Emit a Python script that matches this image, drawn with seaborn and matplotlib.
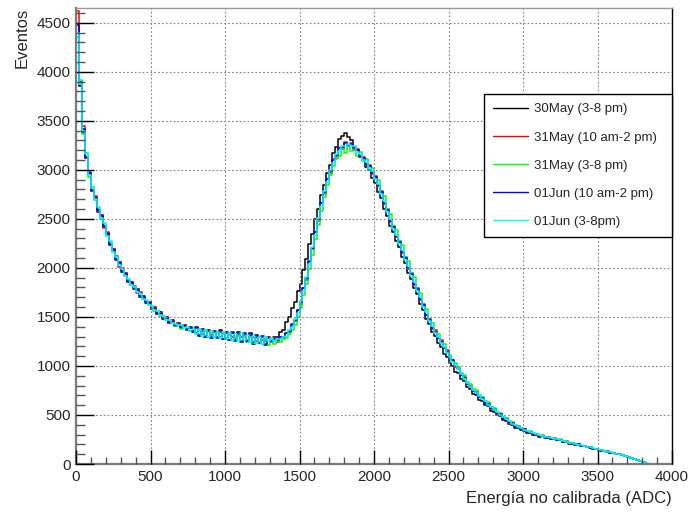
import numpy as np
import pandas as pd
import matplotlib
matplotlib.use("Agg")
import matplotlib.pyplot as plt
from matplotlib.lines import Line2D
from matplotlib.ticker import MultipleLocator
import seaborn as sns

# ---- data: counts per 20-ADC bin (0..4000) ----
bin_width = 20
series_names = ["30May (3-8 pm)", "31May (10 am-2 pm)", "31May (3-8 pm)",
                "01Jun (10 am-2 pm)", "01Jun (3-8pm)"]
series_colors = ["#000000", "#ff0000", "#00ff00", "#0000ff", "#00ffff"]

may30_pm = [4480, 3850, 3380, 3120, 2960, 2780, 2720, 2570,
            2540, 2420, 2360, 2230, 2190, 2080, 2060, 1960,
            1950, 1860, 1860, 1780, 1780, 1700, 1710, 1640,
            1650, 1580, 1600, 1530, 1550, 1480, 1500, 1440,
            1470, 1410, 1440, 1390, 1420, 1370, 1400, 1350,
            1400, 1310, 1380, 1300, 1370, 1280, 1360, 1290,
            1370, 1270, 1350, 1260, 1340, 1250, 1350, 1240,
            1330, 1250, 1340, 1220, 1320, 1230, 1300, 1210,
            1290, 1250, 1300, 1300, 1350, 1370, 1450, 1500,
            1590, 1650, 1760, 1840, 1980, 2090, 2240, 2350,
            2500, 2600, 2740, 2840, 2970, 3050, 3170, 3230,
            3310, 3340, 3380, 3330, 3300, 3230, 3200, 3130,
            3100, 3030, 3000, 2920, 2870, 2770, 2710, 2600,
            2530, 2430, 2370, 2270, 2210, 2110, 2050, 1950,
            1890, 1790, 1730, 1630, 1570, 1480, 1430, 1350,
            1310, 1230, 1195, 1120, 1090, 1025, 1000, 940,
            930, 870, 845, 785, 765, 715, 700, 655,
            645, 600, 590, 545, 535, 495, 488, 450,
            440, 410, 402, 372, 368, 344, 340, 318,
            315, 295, 295, 280, 282, 266, 267, 253,
            253, 240, 240, 227, 224, 208, 208, 197,
            195, 184, 182, 170, 166, 155, 151, 140,
            137, 128, 125, 116, 112, 102, 98, 89,
            81, 70, 60, 48, 38, 26, 15, 5,
            0, 0, 0, 0, 0, 0, 0, 0]

may31_am = [4620, 3880, 3450, 3120, 2980, 2780, 2730, 2580,
            2540, 2410, 2370, 2230, 2190, 2120, 2010, 2000,
            1950, 1860, 1830, 1820, 1740, 1750, 1680, 1650,
            1650, 1580, 1590, 1530, 1540, 1490, 1500, 1440,
            1460, 1420, 1440, 1390, 1420, 1370, 1390, 1380,
            1340, 1380, 1330, 1310, 1360, 1320, 1300, 1350,
            1300, 1340, 1280, 1330, 1290, 1270, 1330, 1290,
            1320, 1260, 1310, 1300, 1250, 1300, 1260, 1250,
            1290, 1240, 1270, 1240, 1290, 1280, 1340, 1350,
            1420, 1460, 1570, 1630, 1790, 1880, 2060, 2190,
            2370, 2480, 2660, 2750, 2910, 2970, 3110, 3130,
            3220, 3210, 3280, 3240, 3270, 3200, 3210, 3130,
            3130, 3050, 3050, 2960, 2940, 2830, 2780, 2650,
            2600, 2470, 2430, 2310, 2270, 2150, 2110, 1990,
            1950, 1830, 1790, 1670, 1630, 1520, 1480, 1380,
            1370, 1280, 1260, 1180, 1160, 1080, 1060, 990,
            980, 905, 885, 815, 800, 740, 735, 680,
            678, 622, 615, 565, 560, 512, 510, 466,
            465, 422, 418, 385, 385, 356, 355, 328,
            328, 302, 306, 288, 290, 272, 276, 258,
            262, 244, 247, 230, 230, 212, 214, 200,
            201, 186, 187, 172, 172, 157, 156, 142,
            141, 130, 128, 117, 115, 104, 100, 90,
            84, 70, 62, 48, 40, 26, 17, 5,
            0, 0, 0, 0, 0, 0, 0, 0]

may31_pm = [4350, 3920, 3370, 3170, 2930, 2820, 2690, 2610,
            2500, 2450, 2330, 2260, 2160, 2090, 2050, 1970,
            1920, 1890, 1830, 1790, 1770, 1710, 1700, 1650,
            1620, 1610, 1560, 1560, 1510, 1510, 1470, 1470,
            1450, 1410, 1430, 1380, 1410, 1380, 1360, 1390,
            1330, 1370, 1320, 1360, 1300, 1340, 1290, 1340,
            1280, 1330, 1270, 1320, 1260, 1300, 1310, 1250,
            1300, 1240, 1290, 1230, 1280, 1240, 1220, 1270,
            1210, 1260, 1220, 1250, 1240, 1270, 1280, 1330,
            1370, 1420, 1500, 1590, 1720, 1840, 1990, 2130,
            2290, 2440, 2580, 2720, 2840, 2950, 3040, 3110,
            3140, 3220, 3170, 3240, 3190, 3230, 3140, 3180,
            3090, 3110, 3010, 3020, 2910, 2900, 2770, 2730,
            2600, 2550, 2430, 2390, 2270, 2230, 2110, 2070,
            1950, 1910, 1780, 1740, 1620, 1580, 1470, 1440,
            1350, 1330, 1240, 1220, 1140, 1110, 1050, 1030,
            985, 925, 905, 840, 815, 765, 750, 705,
            688, 645, 628, 585, 572, 532, 520, 482,
            472, 438, 428, 398, 392, 366, 362, 338,
            334, 312, 310, 294, 294, 279, 278, 264,
            264, 249, 250, 234, 232, 217, 215, 203,
            203, 188, 188, 174, 172, 158, 157, 143,
            143, 131, 129, 118, 116, 104, 102, 90,
            83, 73, 62, 51, 40, 28, 17, 7,
            0, 0, 0, 0, 0, 0, 0, 0]

jun01_am = [4480, 3900, 3420, 3130, 2970, 2790, 2710, 2590,
            2530, 2430, 2350, 2240, 2180, 2090, 2050, 1970,
            1940, 1870, 1850, 1790, 1770, 1710, 1700, 1650,
            1640, 1590, 1580, 1540, 1530, 1490, 1490, 1450,
            1450, 1420, 1430, 1400, 1410, 1380, 1390, 1360,
            1390, 1320, 1360, 1300, 1360, 1290, 1350, 1280,
            1350, 1270, 1340, 1260, 1350, 1260, 1330, 1250,
            1340, 1250, 1320, 1240, 1300, 1230, 1310, 1220,
            1280, 1250, 1270, 1260, 1290, 1290, 1340, 1360,
            1430, 1470, 1570, 1650, 1790, 1900, 2070, 2200,
            2370, 2500, 2660, 2770, 2910, 2990, 3100, 3150,
            3220, 3230, 3270, 3250, 3260, 3220, 3200, 3140,
            3120, 3060, 3040, 2970, 2930, 2840, 2770, 2660,
            2590, 2480, 2420, 2320, 2260, 2160, 2100, 2000,
            1940, 1840, 1780, 1680, 1620, 1520, 1470, 1390,
            1350, 1280, 1240, 1180, 1140, 1080, 1060, 1000,
            970, 910, 880, 815, 790, 740, 725, 685,
            670, 625, 610, 568, 555, 515, 505, 468,
            460, 425, 415, 385, 380, 355, 352, 327,
            325, 302, 304, 286, 289, 272, 274, 258,
            259, 244, 245, 229, 228, 210, 212, 199,
            199, 186, 185, 171, 170, 156, 154, 141,
            139, 129, 127, 116, 114, 102, 100, 88,
            82, 70, 61, 48, 39, 26, 16, 5,
            0, 0, 0, 0, 0, 0, 0, 0]

jun01_pm = [4400, 3870, 3400, 3160, 2950, 2810, 2700, 2620,
            2510, 2460, 2330, 2270, 2160, 2110, 2030, 1990,
            1920, 1890, 1830, 1810, 1750, 1730, 1680, 1670,
            1620, 1610, 1570, 1560, 1520, 1510, 1470, 1470,
            1440, 1430, 1420, 1420, 1390, 1400, 1370, 1380,
            1330, 1380, 1310, 1370, 1300, 1360, 1290, 1350,
            1280, 1350, 1270, 1340, 1260, 1330, 1250, 1340,
            1260, 1320, 1240, 1310, 1230, 1300, 1220, 1290,
            1250, 1280, 1250, 1270, 1270, 1300, 1310, 1370,
            1400, 1480, 1540, 1660, 1760, 1910, 2040, 2210,
            2340, 2510, 2630, 2780, 2880, 3000, 3070, 3160,
            3190, 3240, 3240, 3260, 3240, 3240, 3180, 3160,
            3100, 3080, 3020, 2990, 2910, 2860, 2750, 2680,
            2570, 2500, 2400, 2340, 2240, 2180, 2080, 2020,
            1920, 1860, 1760, 1700, 1600, 1550, 1460, 1410,
            1340, 1300, 1230, 1190, 1130, 1090, 1040, 1010,
            965, 920, 870, 830, 785, 755, 720, 695,
            665, 638, 605, 580, 550, 528, 500, 480,
            455, 435, 412, 396, 378, 365, 350, 338,
            322, 312, 302, 296, 287, 280, 272, 265,
            258, 251, 243, 236, 227, 218, 211, 205,
            198, 191, 184, 177, 169, 161, 153, 145,
            139, 133, 126, 120, 113, 106, 99, 91,
            83, 73, 62, 51, 40, 28, 17, 7,
            0, 0, 0, 0, 0, 0, 0, 0]

x_ticks = [0, 500, 1000, 1500, 2000, 2500, 3000, 3500, 4000]
y_ticks = [0, 500, 1000, 1500, 2000, 2500, 3000, 3500, 4000, 4500]

all_series = [may30_pm, may31_am, may31_pm, jun01_am, jun01_pm]

# ---- build tidy table ----
frames = []
for name, vals in zip(series_names, all_series):
    n = len(vals)
    centers = (np.arange(n) + 0.5) * bin_width
    frames.append(pd.DataFrame({"adc": centers, "counts": vals, "series": name}))
df = pd.concat(frames, ignore_index=True)

# ---- style ----
sns.set_theme(style="white")
plt.rcParams["font.family"] = ["Liberation Sans", "DejaVu Sans"]

fig = plt.figure(figsize=(6.96, 5.14), dpi=100)
ax = fig.add_axes([76 / 696, 1 - 464 / 514, 596 / 696, 456 / 514])

for name, color in zip(series_names, series_colors):
    sub = df[df["series"] == name]
    sns.histplot(data=sub, x="adc", weights="counts", binwidth=bin_width,
                 binrange=(0, 4000), element="step", fill=False, color=color,
                 linewidth=1.1, ax=ax, legend=False)

ax.set_xlim(0, 4000)
ax.set_ylim(0, 4650)
ax.set_xticks(x_ticks)
ax.set_yticks(y_ticks)
ax.xaxis.set_minor_locator(MultipleLocator(100))
ax.yaxis.set_minor_locator(MultipleLocator(100))
ax.tick_params(axis="both", which="both", direction="in", labelsize=11,
               top=False, right=False, bottom=True, left=True)
ax.tick_params(axis="both", which="major", color="black")
ax.tick_params(axis="both", which="minor", color="#555555")
ax.tick_params(axis="x", which="major", length=10, width=1, pad=4)
ax.tick_params(axis="x", which="minor", length=5, width=1)
ax.tick_params(axis="y", which="major", length=13, width=1, pad=4)
ax.tick_params(axis="y", which="minor", length=6.5, width=1)

ax.grid(True, which="major", linestyle=(0, (1.5, 2)), color="#808080", linewidth=0.8)
ax.set_axisbelow(False)

for side in ["left", "bottom"]:
    ax.spines[side].set_color("#7a7a7a")
    ax.spines[side].set_linewidth(1.6)
for side in ["right", "top"]:
    ax.spines[side].set_color("#000000")
    ax.spines[side].set_linewidth(1.0)
ax.spines["top"].set_color("#9a9a9a")

ax.set_xlabel("Energía no calibrada (ADC)", loc="right", fontsize=12, labelpad=5)
ax.set_ylabel("Eventos", loc="top", fontsize=12, labelpad=5)

handles = [Line2D([0], [0], color=c, lw=1.0) for c in series_colors]
leg = ax.legend(handles, series_names, loc="upper left",
                bbox_to_anchor=(0.6846, 0.4978, 0.3154, 0.3136), mode="expand",
                borderaxespad=0, fontsize=9.5, frameon=True, fancybox=False,
                borderpad=0.7, labelspacing=1.2, handlelength=2.6,
                handletextpad=0.45)
leg.get_frame().set_edgecolor("#000000")
leg.get_frame().set_linewidth(1.0)
leg.get_frame().set_alpha(1.0)

fig.savefig("out.png", dpi=100)
